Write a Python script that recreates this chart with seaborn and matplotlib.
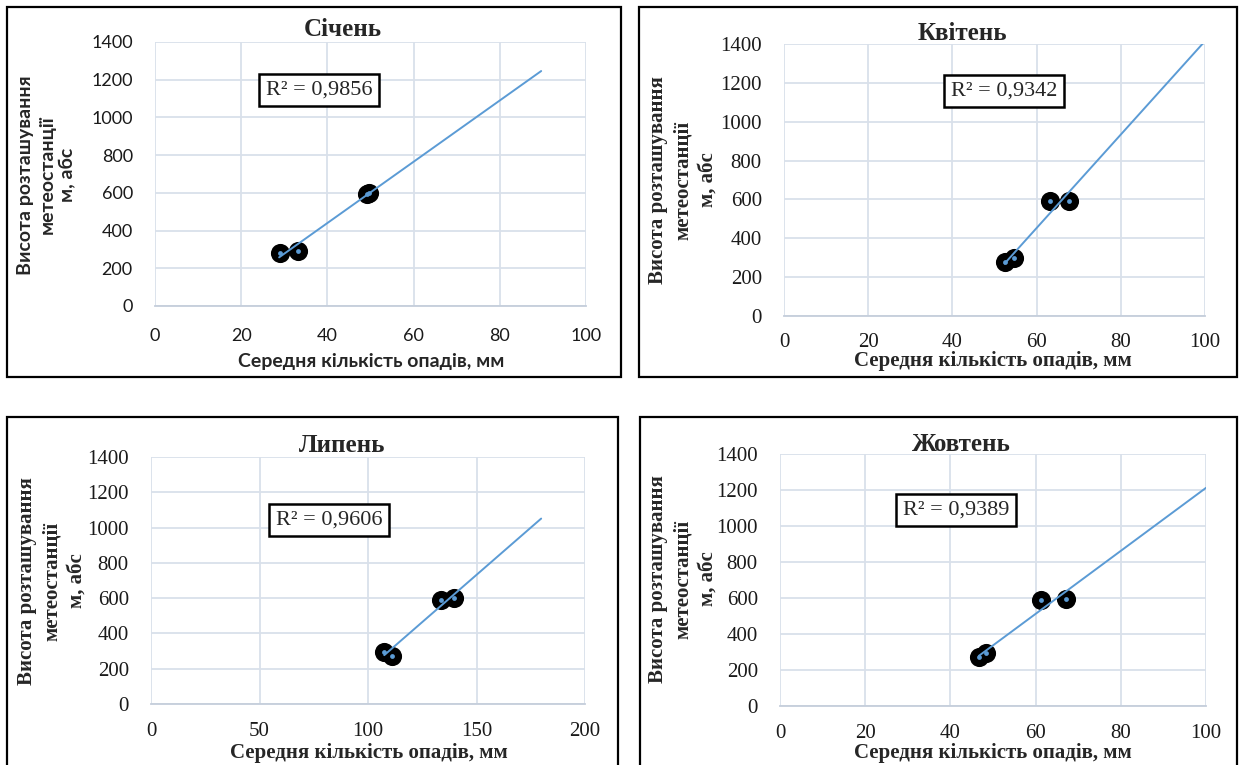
import numpy as np
import pandas as pd
import matplotlib.pyplot as plt
import seaborn as sns
from matplotlib.patches import Rectangle

# ---- data ----
months = ["Січень", "Квітень", "Липень", "Жовтень"]
r2_labels = ["R² = 0,9856", "R² = 0,9342", "R² = 0,9606", "R² = 0,9389"]

# mean precipitation (mm) and station height (m abs) per month
precip_jan = [29.0, 33.2, 49.3, 49.6]
height_jan = [279, 293, 594, 597]
precip_apr = [52.4, 54.7, 63.1, 67.6]
height_apr = [279, 296, 590, 594]
precip_jul = [107.5, 111.1, 133.8, 139.5]
height_jul = [296, 274, 592, 598]
precip_oct = [46.7, 48.3, 61.2, 67.1]
height_oct = [273, 295, 591, 595]

# linear trend line ends (as drawn, with forward forecast)
trend_x_jan = [28.8, 89.6]
trend_y_jan = [258, 1246]
trend_x_apr = [52.4, 99.5]
trend_y_apr = [270, 1403]
trend_x_jul = [107.5, 179.8]
trend_y_jul = [277, 1051]
trend_x_oct = [46.7, 100.0]
trend_y_oct = [279, 1212]

x_ticks_100 = [0, 20, 40, 60, 80, 100]
x_ticks_200 = [0, 50, 100, 150, 200]
y_ticks = [0, 200, 400, 600, 800, 1000, 1200, 1400]

ylabel = "Висота розташування\nметеостанції\nм, абс"
xlabel = "Середня кількість опадів, мм"

# ---- layout (pixels of a 1241x765 canvas) ----
W, H = 1241, 765


def fx(px):
    return px / W


def fy(py):
    return 1 - py / H


panels = [
    dict(month=months[0], r2=r2_labels[0], x=precip_jan, y=height_jan,
         tx=trend_x_jan, ty=trend_y_jan, xticks=x_ticks_100,
         ax=(155, 586, 42, 306), border=(7, 621, 7, 377),
         title=(343, 30), xl=(371, 362), yl=(47, 175), r2pos=(38, 1145),
         sans=True, xpad=16),
    dict(month=months[1], r2=r2_labels[1], x=precip_apr, y=height_apr,
         tx=trend_x_apr, ty=trend_y_apr, xticks=x_ticks_100,
         ax=(784, 1205, 44, 316), border=(639, 1237, 7, 377),
         title=(962, 33), xl=(993, 361), yl=(683, 180), r2pos=(52.3, 1158),
         sans=False, xpad=12),
    dict(month=months[2], r2=r2_labels[2], x=precip_jul, y=height_jul,
         tx=trend_x_jul, ty=trend_y_jul, xticks=x_ticks_200,
         ax=(151, 585, 457, 704), border=(7, 618, 417, 775),
         title=(342, 445), xl=(369, 753), yl=(52, 581), r2pos=(82, 1043),
         sans=False, xpad=13),
    dict(month=months[3], r2=r2_labels[3], x=precip_oct, y=height_oct,
         tx=trend_x_oct, ty=trend_y_oct, xticks=x_ticks_100,
         ax=(780, 1206, 454, 706), border=(640, 1237, 417, 775),
         title=(961, 444), xl=(993, 753), yl=(683, 579), r2pos=(41.3, 1089),
         sans=False, xpad=13),
]

sns.set_style("white")
plt.rcParams["font.family"] = ["Liberation Serif", "DejaVu Serif"]

SERIF = ["Liberation Serif", "DejaVu Serif"]
SANS = ["Lato", "DejaVu Sans"]
GRID = "#d9e0ea"
BLUE = "#5b9bd5"

fig = plt.figure(figsize=(12.41, 7.65), dpi=100)
fig.patch.set_facecolor("white")

for p in panels:
    l, r, t, b = p["ax"]
    ax = fig.add_axes([fx(l), fy(b), fx(r) - fx(l), fy(t) - fy(b)])

    df = pd.DataFrame({"precip": p["x"], "height": p["y"]})
    trend = pd.DataFrame({"precip": p["tx"], "height": p["ty"]})

    # big black markers, trend line over them, small blue centres
    sns.scatterplot(data=df, x="precip", y="height", ax=ax, s=190,
                    color="black", edgecolor="black", linewidth=0, zorder=2)
    sns.lineplot(data=trend, x="precip", y="height", ax=ax, color=BLUE,
                 linewidth=1.4, zorder=3)
    sns.scatterplot(data=df, x="precip", y="height", ax=ax, s=12,
                    color=BLUE, linewidth=0, zorder=4)

    ax.set_xlim(p["xticks"][0], p["xticks"][-1])
    ax.set_ylim(0, 1400)
    ax.set_xticks(p["xticks"])
    ax.set_yticks(y_ticks)
    ax.grid(True, color=GRID, linewidth=1.3)
    ax.set_axisbelow(True)
    for side in ["top", "right", "left"]:
        ax.spines[side].set_visible(False)
    ax.spines["bottom"].set_color("#c5cedb")
    ax.spines["bottom"].set_linewidth(1.3)
    ax.set_xlabel("")
    ax.set_ylabel("")

    if p["sans"]:
        lab_font, lab_size, tick_font, tick_size = SANS, 14, "Lato", 13
    else:
        lab_font, lab_size, tick_font, tick_size = SERIF, 15, "Liberation Serif", 15
    ax.tick_params(axis="y", length=0, pad=16, labelsize=tick_size,
                   labelfontfamily=tick_font, labelcolor="#1a1a1a")
    ax.tick_params(axis="x", length=0, pad=p["xpad"], labelsize=tick_size,
                   labelfontfamily=tick_font, labelcolor="#1a1a1a")

    # R² label box
    ax.text(p["r2pos"][0], p["r2pos"][1], p["r2"], ha="center", va="center",
            family=SERIF, fontsize=16, zorder=5,
            bbox=dict(boxstyle="square,pad=0.3", facecolor="white",
                      edgecolor="black", linewidth=1.8))

    fig.text(fx(p["title"][0]), fy(p["title"][1]), p["month"], ha="center",
             va="center", family=SERIF, fontsize=18, fontweight="bold")
    fig.text(fx(p["xl"][0]), fy(p["xl"][1]), xlabel, ha="center", va="center",
             family=lab_font, fontsize=lab_size, fontweight="bold")
    fig.text(fx(p["yl"][0]), fy(p["yl"][1]), ylabel, ha="center", va="center",
             rotation=90, family=lab_font, fontsize=lab_size,
             fontweight="bold", linespacing=1.3, multialignment="center")

    # black frame around each chart
    bl, br, bt, bb = p["border"]
    fig.patches.append(Rectangle((fx(bl), fy(bb)), fx(br) - fx(bl),
                                 fy(bt) - fy(bb), transform=fig.transFigure,
                                 fill=False, edgecolor="black", linewidth=1.6))

plt.savefig("out.png", dpi=100)
